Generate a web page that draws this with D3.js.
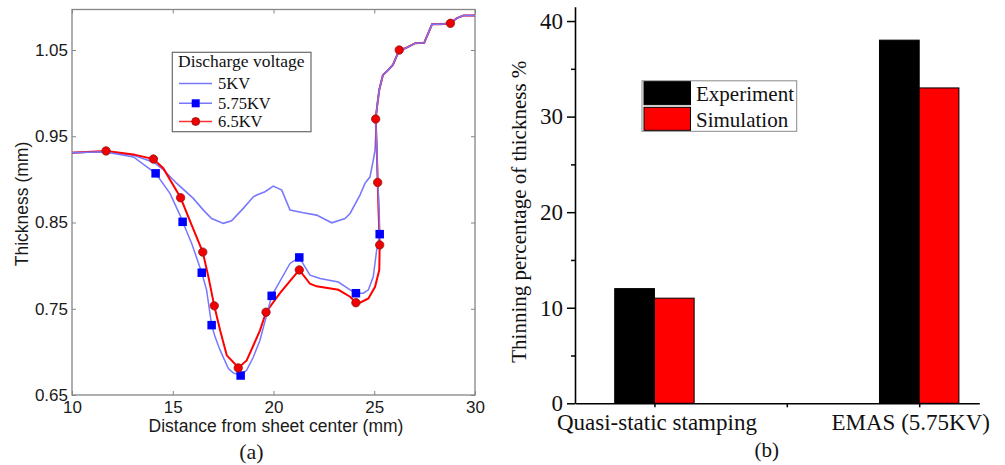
<!DOCTYPE html>
<html>
<head>
<meta charset="utf-8">
<script src="https://cdn.jsdelivr.net/npm/d3@7"></script>
<style>
  html, body { margin: 0; padding: 0; background: #fff; }
  svg { display: block; }
</style>
</head>
<body>
<svg id="chart" width="1005" height="465"></svg>
<script>
// ---------------- DATA: panel (a) ----------------
const xTicksA = [10, 15, 20, 25, 30];
const yTicksA = [0.65, 0.75, 0.85, 0.95, 1.05];
const seriesNamesA = ["5KV", "5.75KV", "6.5KV"];

// shared upper section (all three curves coincide)
const upperCommon = [
  [25.07, 0.970], [25.16, 0.988], [25.25, 1.004], [25.43, 1.021], [25.70, 1.027],
  [25.93, 1.033], [26.24, 1.050], [26.54, 1.052], [27.04, 1.058], [27.48, 1.0585],
  [27.87, 1.080], [28.28, 1.080], [28.78, 1.081], [29.10, 1.087], [29.43, 1.090], [30.0, 1.090]
];

const curve5KV = [
  [10, 0.931], [11.6, 0.932], [13.05, 0.928], [14.05, 0.920], [14.5, 0.912], [15.2, 0.8953],
  [16.02, 0.878], [16.52, 0.8644], [16.93, 0.8547], [17.51, 0.849], [17.92, 0.852],
  [18.5, 0.8664], [19.0, 0.8798], [19.17, 0.8818], [19.58, 0.8857], [19.99, 0.8922],
  [20.41, 0.8876], [20.82, 0.8644], [21.48, 0.8613], [22.14, 0.8586], [22.89, 0.8497],
  [23.55, 0.8547], [23.8, 0.8605], [24.29, 0.8818], [24.54, 0.8954], [24.79, 0.903],
  [24.95, 0.922], [25.04, 0.934], [25.08, 0.955]
];

const curve575KV = [
  [10, 0.931], [11.6, 0.932], [13.05, 0.926], [14.15, 0.907], [14.86, 0.8838], [15.36, 0.8586],
  [15.49, 0.8508], [15.94, 0.8257], [16.44, 0.7918], [16.68, 0.7716], [16.93, 0.731],
  [17.1, 0.7174], [17.35, 0.702], [17.76, 0.6807], [18.0, 0.6756], [18.37, 0.6726],
  [18.67, 0.679], [19.0, 0.694], [19.33, 0.7136], [19.91, 0.765], [20.82, 0.8025],
  [21.07, 0.8064], [21.28, 0.8095], [21.81, 0.789], [22.31, 0.785], [23.22, 0.781],
  [23.8, 0.772], [24.09, 0.768], [24.46, 0.768], [24.71, 0.772], [24.95, 0.787],
  [25.12, 0.818], [25.27, 0.8365], [25.25, 0.86], [25.18, 0.896], [25.12, 0.94]
];
const markers575KV = [
  [14.15, 0.907], [15.49, 0.8508], [16.44, 0.7918], [16.93, 0.731], [18.37, 0.6726],
  [19.91, 0.765], [21.28, 0.8095], [24.09, 0.768], [25.27, 0.8365]
];

const curve65KV = [
  [10, 0.931], [11.69, 0.933], [13.05, 0.929], [14.04, 0.9236], [14.53, 0.913], [15.39, 0.8787],
  [15.94, 0.847], [16.49, 0.8157], [16.77, 0.787], [17.06, 0.7534], [17.35, 0.725],
  [17.68, 0.696], [18.09, 0.686], [18.25, 0.6814], [18.67, 0.690], [19.33, 0.725],
  [19.63, 0.746], [20.32, 0.768], [21.28, 0.795], [21.81, 0.779], [22.14, 0.776],
  [23.22, 0.772], [23.8, 0.764], [24.09, 0.757], [24.29, 0.757], [24.71, 0.762],
  [25.04, 0.7755], [25.25, 0.795], [25.27, 0.824], [25.22, 0.86], [25.17, 0.8965], [25.12, 0.94]
];
const markers65KV = [
  [11.69, 0.933], [14.04, 0.9236], [15.39, 0.8787], [16.49, 0.8157], [17.06, 0.7534],
  [18.25, 0.6814], [19.63, 0.746], [21.28, 0.795], [24.09, 0.757], [25.27, 0.824],
  [25.17, 0.8965], [25.07, 0.970], [26.24, 1.050], [28.78, 1.081]
];

// ---------------- DATA: panel (b) ----------------
const categoriesB = ["Quasi-static stamping", "EMAS (5.75KV)"];
const experimentB = [12, 38];
const simulationB = [11, 33];
const seriesNamesB = ["Experiment", "Simulation"];
const yTicksB = [0, 10, 20, 30, 40];
const yMinorTicksB = [5, 15, 25, 35];

// ---------------- DRAWING ----------------
const svg = d3.select("#chart");
const SANS = "'Liberation Sans', Arial, Helvetica, sans-serif";
const SERIF = "'Liberation Serif', 'Times New Roman', Times, serif";

// ===== Panel (a) =====
const xL = d3.scaleLinear().domain([10, 30]).range([72, 475]);
const yL = d3.scaleLinear().domain([0.65, 1.097]).range([395, 9.5]);
const gA = svg.append("g");

const frameColor = "#858585";

function styleAxis(g) {
  g.select(".domain").remove();
  g.selectAll(".tick line").attr("stroke", frameColor).attr("stroke-width", 1);
  g.selectAll(".tick text").attr("fill", "#1a1a1a").style("font-family", SANS).style("font-size", "17px");
}

gA.append("g").attr("transform", "translate(0,395)")
  .call(d3.axisBottom(xL).tickValues(xTicksA).tickSize(-4).tickPadding(6).tickFormat(d3.format("d")))
  .call(styleAxis);
gA.append("g").attr("transform", "translate(0,9.5)")
  .call(d3.axisTop(xL).tickValues(xTicksA).tickSize(-4).tickFormat(""))
  .call(styleAxis);
gA.append("g").attr("transform", "translate(72,0)")
  .call(d3.axisLeft(yL).tickValues(yTicksA).tickSize(-4).tickPadding(4).tickFormat(d3.format(".2f")))
  .call(styleAxis);
gA.append("g").attr("transform", "translate(475,0)")
  .call(d3.axisRight(yL).tickValues(yTicksA).tickSize(-4).tickFormat(""))
  .call(styleAxis);

gA.append("rect")
  .attr("x", xL(10)).attr("y", yL(1.097))
  .attr("width", xL(30) - xL(10)).attr("height", yL(0.65) - yL(1.097))
  .attr("fill", "none").attr("stroke", frameColor).attr("stroke-width", 1.3);

const lineA = d3.line().x(d => xL(d[0])).y(d => yL(d[1]));
const lightBlue = "#7878ff";

gA.append("path").datum(curve5KV.concat(upperCommon))
  .attr("d", lineA).attr("fill", "none").attr("stroke", lightBlue).attr("stroke-width", 1.6);
gA.append("path").datum(curve65KV.concat(upperCommon))
  .attr("d", lineA).attr("fill", "none").attr("stroke", "#ff0000").attr("stroke-width", 2);
gA.append("path").datum(curve575KV.concat(upperCommon))
  .attr("d", lineA).attr("fill", "none").attr("stroke", lightBlue).attr("stroke-width", 1.5);

const sq = 8.5;
gA.selectAll(".sq").data(markers575KV).enter().append("rect")
  .attr("x", d => xL(d[0]) - sq / 2).attr("y", d => yL(d[1]) - sq / 2)
  .attr("width", sq).attr("height", sq).attr("fill", "#0000ff");
gA.selectAll(".ci").data(markers65KV).enter().append("circle")
  .attr("cx", d => xL(d[0])).attr("cy", d => yL(d[1])).attr("r", 4.2)
  .attr("fill", "#f00000").attr("stroke", "#8a1a1a").attr("stroke-width", 0.8);

// axis titles
gA.append("text").attr("x", 276).attr("y", 432).attr("text-anchor", "middle")
  .style("font-family", SANS).style("font-size", "17.5px").attr("fill", "#1a1a1a")
  .text("Distance from sheet center (mm)");
gA.append("text").attr("transform", "translate(28,204) rotate(-90)").attr("text-anchor", "middle")
  .style("font-family", SANS).style("font-size", "17.5px").attr("fill", "#1a1a1a")
  .text("Thickness (mm)");
gA.append("text").attr("x", 251.5).attr("y", 459).attr("text-anchor", "middle")
  .style("font-family", SERIF).style("font-size", "22px").attr("fill", "#1a1a1a")
  .text("(a)");

// legend (a)
const legA = gA.append("g");
legA.append("rect").attr("x", 172.3).attr("y", 52.3).attr("width", 138.7).attr("height", 79.4)
  .attr("fill", "#fff").attr("stroke", "#6a6a6a").attr("stroke-width", 1.2);
legA.append("text").attr("x", 178).attr("y", 67.3)
  .style("font-family", SERIF).style("font-size", "17.5px").attr("fill", "#111")
  .text("Discharge voltage");
const legRowsY = [83.5, 103.3, 121.5];
const legColors = [lightBlue, lightBlue, "#ff3030"];
seriesNamesA.forEach((name, i) => {
  const y = legRowsY[i];
  legA.append("line").attr("x1", 179).attr("x2", 212).attr("y1", y).attr("y2", y)
    .attr("stroke", legColors[i]).attr("stroke-width", 1.5);
  if (i === 1) {
    legA.append("rect").attr("x", 195.7 - 4).attr("y", y - 4).attr("width", 8).attr("height", 8).attr("fill", "#0000ff");
  }
  if (i === 2) {
    legA.append("circle").attr("cx", 195.7).attr("cy", y).attr("r", 4)
      .attr("fill", "#f00000").attr("stroke", "#8a1a1a").attr("stroke-width", 0.8);
  }
  legA.append("text").attr("x", 218).attr("y", y + 5.5)
    .style("font-family", SERIF).style("font-size", "16.5px").attr("fill", "#111")
    .text(name);
});

// ===== Panel (b) =====
const xR = d3.scaleLinear().domain([0.7, 2.227]).range([575, 979.3]);
const yR = d3.scaleLinear().domain([0, 41.5]).range([403.3, 6.7]);
const gB = svg.append("g");
const barW = xR(1.15) - xR(1);

categoriesB.forEach((c, i) => {
  const cx = xR(i + 1);
  gB.append("rect").attr("x", cx - barW).attr("y", yR(experimentB[i]))
    .attr("width", barW).attr("height", yR(0) - yR(experimentB[i]))
    .attr("fill", "#000").attr("stroke", "#000").attr("stroke-width", 1);
  gB.append("rect").attr("x", cx).attr("y", yR(simulationB[i]))
    .attr("width", barW).attr("height", yR(0) - yR(simulationB[i]))
    .attr("fill", "#ff0000").attr("stroke", "#000").attr("stroke-width", 1);
});

// y axis
const yAxB = gB.append("g").attr("transform", "translate(575,0)")
  .call(d3.axisLeft(yR).tickValues(yTicksB).tickSize(8).tickPadding(4).tickSizeOuter(0));
yAxB.select(".domain").attr("stroke", "#000").attr("stroke-width", 1.6);
yAxB.selectAll(".tick line").attr("stroke", "#000").attr("stroke-width", 1.5);
yAxB.selectAll(".tick text").attr("fill", "#111").style("font-family", SERIF).style("font-size", "23px");
const yMinB = gB.append("g").attr("transform", "translate(575,0)")
  .call(d3.axisLeft(yR).tickValues(yMinorTicksB).tickSize(4).tickFormat("").tickSizeOuter(0));
yMinB.select(".domain").remove();
yMinB.selectAll(".tick line").attr("stroke", "#000").attr("stroke-width", 1.5);

// x axis
const xAxB = gB.append("g").attr("transform", "translate(0,403.3)")
  .call(d3.axisBottom(xR).tickValues([1, 2]).tickSize(4).tickPadding(6).tickSizeOuter(0)
    .tickFormat(d => categoriesB[d - 1]));
xAxB.select(".domain").attr("stroke", "#000").attr("stroke-width", 1.6);
xAxB.selectAll(".tick line").attr("stroke", "#000").attr("stroke-width", 1.5);
xAxB.selectAll(".tick text").attr("fill", "#111").style("font-family", SERIF).style("font-size", "23px")
  .attr("dx", (d, i) => i === 1 ? -9 : 2);
const xMinB = gB.append("g").attr("transform", "translate(0,403.3)")
  .call(d3.axisBottom(xR).tickValues([1.5]).tickSize(4).tickFormat("").tickSizeOuter(0));
xMinB.select(".domain").remove();
xMinB.selectAll(".tick line").attr("stroke", "#000").attr("stroke-width", 1.5);

// titles
gB.append("text").attr("transform", "translate(526,211.7) rotate(-90)").attr("text-anchor", "middle")
  .style("font-family", SERIF).style("font-size", "21px").attr("fill", "#111")
  .text("Thinning percentage of thickness %");
gB.append("text").attr("x", 766.7).attr("y", 457).attr("text-anchor", "middle")
  .style("font-family", SERIF).style("font-size", "21px").attr("fill", "#111")
  .text("(b)");

// legend (b)
const legB = gB.append("g");
legB.append("rect").attr("x", 642).attr("y", 80.8).attr("width", 154.7).attr("height", 50.5)
  .attr("fill", "#fff").attr("stroke", "#8a8a8a").attr("stroke-width", 1);
const legBColors = ["#000", "#ff0000"];
const legBTop = [81.7, 107.3];
seriesNamesB.forEach((name, i) => {
  legB.append("rect").attr("x", 644).attr("y", legBTop[i]).attr("width", 46.5).attr("height", 23)
    .attr("fill", legBColors[i]).attr("stroke", "#000").attr("stroke-width", 1);
  legB.append("text").attr("x", 696).attr("y", legBTop[i] + 19.2)
    .style("font-family", SERIF).style("font-size", "21px").attr("fill", "#111")
    .text(name);
});
</script>
</body>
</html>
